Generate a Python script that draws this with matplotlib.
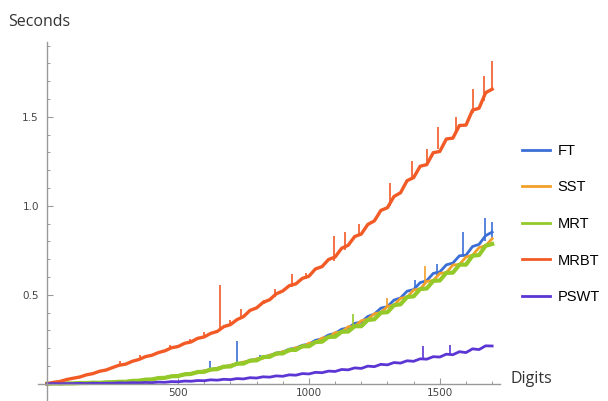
import numpy as np
import matplotlib
matplotlib.use("Agg")
import matplotlib.pyplot as plt
from matplotlib.lines import Line2D

# timing data, one sample every 25 digits (0..1700)
digits = np.arange(0, 1701, 25)

ft = [0.000, 0.001, 0.001, 0.002, 0.002, 0.004, 0.004, 0.006, 0.006, 0.008,
      0.009, 0.011, 0.012, 0.016, 0.018, 0.023, 0.025, 0.031, 0.035, 0.042,
      0.045, 0.053, 0.057, 0.066, 0.071, 0.080, 0.086, 0.096, 0.101, 0.113,
      0.118, 0.131, 0.137, 0.151, 0.158, 0.172, 0.178, 0.194, 0.200, 0.216,
      0.222, 0.244, 0.252, 0.274, 0.283, 0.306, 0.314, 0.339, 0.346, 0.378,
      0.391, 0.425, 0.433, 0.470, 0.482, 0.520, 0.529, 0.568, 0.579, 0.620,
      0.628, 0.668, 0.678, 0.719, 0.722, 0.771, 0.783, 0.832, 0.852]
sst = [0.000, 0.001, 0.001, 0.002, 0.002, 0.003, 0.004, 0.005, 0.006, 0.007,
       0.009, 0.010, 0.012, 0.015, 0.018, 0.021, 0.025, 0.030, 0.035, 0.040,
       0.047, 0.050, 0.059, 0.062, 0.073, 0.076, 0.088, 0.091, 0.104, 0.108,
       0.122, 0.125, 0.140, 0.143, 0.161, 0.163, 0.181, 0.183, 0.203, 0.205,
       0.228, 0.230, 0.257, 0.259, 0.287, 0.290, 0.320, 0.322, 0.354, 0.362,
       0.393, 0.400, 0.435, 0.441, 0.480, 0.486, 0.527, 0.532, 0.575, 0.580,
       0.620, 0.624, 0.667, 0.670, 0.712, 0.722, 0.765, 0.775, 0.815]
mrt = [0.000, 0.001, 0.001, 0.002, 0.002, 0.004, 0.004, 0.006, 0.005, 0.008,
       0.008, 0.011, 0.011, 0.016, 0.017, 0.023, 0.024, 0.032, 0.033, 0.042,
       0.043, 0.053, 0.055, 0.066, 0.067, 0.080, 0.082, 0.096, 0.097, 0.113,
       0.113, 0.130, 0.131, 0.150, 0.151, 0.170, 0.170, 0.190, 0.190, 0.211,
       0.210, 0.234, 0.236, 0.263, 0.264, 0.292, 0.293, 0.323, 0.323, 0.358,
       0.362, 0.399, 0.402, 0.441, 0.446, 0.487, 0.491, 0.532, 0.535, 0.578,
       0.580, 0.623, 0.624, 0.669, 0.669, 0.719, 0.723, 0.775, 0.785]
mrbt = [0.000, 0.008, 0.013, 0.024, 0.031, 0.038, 0.050, 0.057, 0.070, 0.077,
        0.091, 0.104, 0.110, 0.126, 0.136, 0.152, 0.160, 0.175, 0.185, 0.202,
        0.209, 0.227, 0.235, 0.255, 0.263, 0.283, 0.294, 0.321, 0.332, 0.360,
        0.377, 0.412, 0.426, 0.457, 0.472, 0.505, 0.521, 0.551, 0.561, 0.592,
        0.604, 0.645, 0.658, 0.698, 0.712, 0.761, 0.778, 0.827, 0.841, 0.895,
        0.915, 0.974, 0.989, 1.052, 1.073, 1.141, 1.158, 1.222, 1.231, 1.298,
        1.305, 1.375, 1.380, 1.451, 1.453, 1.537, 1.548, 1.635, 1.655]
pswt = [0.000, 0.001, 0.000, 0.001, 0.001, 0.002, 0.001, 0.003, 0.002, 0.003,
        0.003, 0.005, 0.004, 0.006, 0.005, 0.007, 0.006, 0.009, 0.008, 0.012,
        0.011, 0.015, 0.014, 0.018, 0.017, 0.022, 0.020, 0.025, 0.023, 0.029,
        0.027, 0.034, 0.032, 0.039, 0.037, 0.044, 0.042, 0.050, 0.048, 0.057,
        0.055, 0.064, 0.062, 0.071, 0.069, 0.080, 0.078, 0.089, 0.086, 0.099,
        0.096, 0.109, 0.106, 0.119, 0.116, 0.129, 0.126, 0.140, 0.138, 0.152,
        0.150, 0.166, 0.163, 0.180, 0.175, 0.196, 0.192, 0.213, 0.212]

# isolated spikes: digit, low, high
ft_spk_x = [623, 727, 813, 1406, 1488, 1590, 1673, 1700]
ft_spk_lo = [0.075, 0.110, 0.140, 0.520, 0.600, 0.720, 0.800, 0.820]
ft_spk_hi = [0.126, 0.238, 0.163, 0.585, 0.670, 0.850, 0.930, 0.910]
sst_spk_x = [1300, 1444]
sst_spk_lo = [0.430, 0.560]
sst_spk_hi = [0.480, 0.660]
mrt_spk_x = [1170]
mrt_spk_lo = [0.310]
mrt_spk_hi = [0.390]
mrbt_spk_x = [279, 355, 470, 545, 598, 661, 700, 740, 830, 871, 935, 990,
              1094, 1138, 1190, 1310, 1393, 1450, 1495, 1560, 1628, 1667, 1698]
mrbt_spk_lo = [0.100, 0.135, 0.190, 0.235, 0.265, 0.300, 0.330, 0.370, 0.450, 0.490,
               0.545, 0.590, 0.690, 0.750, 0.840, 1.000, 1.150, 1.240, 1.320, 1.420,
               1.520, 1.590, 1.650]
mrbt_spk_hi = [0.125, 0.160, 0.215, 0.250, 0.290, 0.557, 0.360, 0.420, 0.470, 0.530,
               0.614, 0.620, 0.830, 0.850, 0.900, 1.130, 1.250, 1.320, 1.440, 1.500,
               1.655, 1.730, 1.815]
pswt_spk_x = [1435, 1539]
pswt_spk_lo = [0.142, 0.165]
pswt_spk_hi = [0.214, 0.220]

labels = ["FT", "SST", "MRT", "MRBT", "PSWT"]
colors = ["#3b6fd6", "#f2a02a", "#94c92a", "#f25a26", "#5b36d4"]
widths = [2.0, 2.0, 3.0, 2.4, 2.0]

series = [ft, sst, mrt, mrbt, pswt]
spikes = [(ft_spk_x, ft_spk_lo, ft_spk_hi), (sst_spk_x, sst_spk_lo, sst_spk_hi),
          (mrt_spk_x, mrt_spk_lo, mrt_spk_hi), (mrbt_spk_x, mrbt_spk_lo, mrbt_spk_hi),
          (pswt_spk_x, pswt_spk_lo, pswt_spk_hi)]

fig = plt.figure(figsize=(6.08, 4.01), dpi=100)
ax = fig.add_axes([38 / 608, 0.0, 462 / 608, 359 / 401])

for vals, spk, col, w in zip(series, spikes, colors, widths):
    ax.plot(digits, vals, color=col, lw=w)
    ax.vlines(spk[0], spk[1], spk[2], color=col, lw=1.2)

ax.set_xlim(-35, 1730)
ax.set_ylim(-0.097, 1.92)

for s in ["top", "right"]:
    ax.spines[s].set_visible(False)
ax.spines["left"].set_position(("data", 0))
ax.spines["bottom"].set_position(("data", 0))
for s in ["left", "bottom"]:
    ax.spines[s].set_color("#9a9a9a")
    ax.spines[s].set_linewidth(1.0)

ax.set_xticks([500, 1000, 1500])
ax.set_xticks(np.arange(100, 1800, 100), minor=True)
ax.set_yticks([0.5, 1.0, 1.5])
ax.set_yticks(np.arange(0.1, 1.95, 0.1), minor=True)
ax.set_yticklabels(["0.5", "1.0", "1.5"])
ax.tick_params(which="both", direction="in", color="#9a9a9a", labelsize=7.5,
               labelcolor="#444444")
ax.tick_params(which="major", length=4.5, width=0.8)
ax.tick_params(which="minor", length=2.5, width=0.7)
ax.tick_params(axis="y", pad=6)
ax.tick_params(axis="x", pad=3)

fig.text(8 / 608, 1 - 22 / 401, "Seconds", fontsize=11.5, family="Open Sans",
         color="#333333", va="center")
fig.text(511 / 608, 1 - 379 / 401, "Digits", fontsize=11.5, family="Open Sans",
         color="#333333", va="center")

handles = [Line2D([], [], color=c, lw=2.0) for c in colors]
fig.legend(handles, labels, loc="center left", bbox_to_anchor=(522 / 608, 1 - 224 / 401),
           frameon=False, borderpad=0, borderaxespad=0, handlelength=1.95,
           handletextpad=0.5, labelspacing=1.55,
           prop={"family": "Liberation Sans", "size": 10.5})

fig.savefig("out.png", dpi=100)
